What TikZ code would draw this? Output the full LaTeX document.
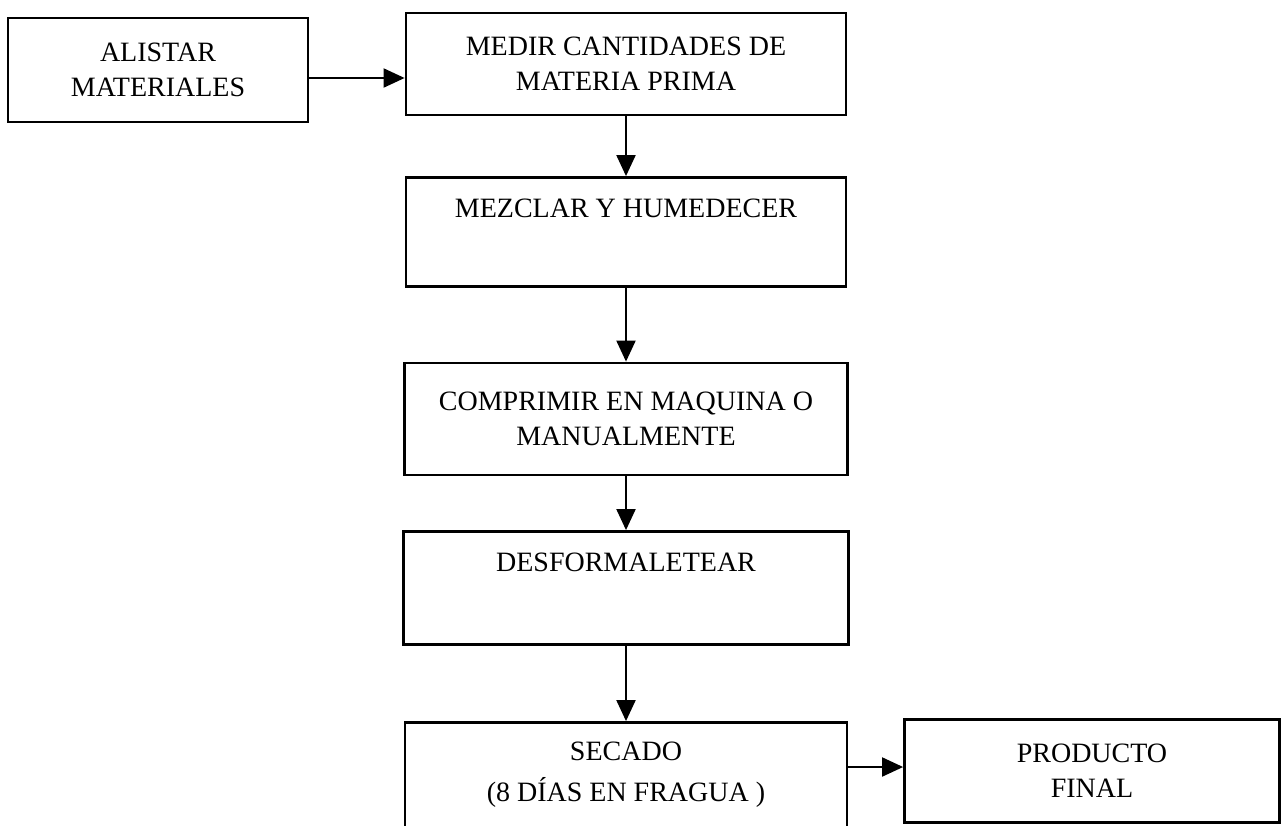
\documentclass[tikz,border=0pt]{standalone}
\usepackage{fontspec}
\setmainfont{Liberation Serif}
\usetikzlibrary{arrows.meta}
\usetikzlibrary{positioning}

\begin{document}
\begin{tikzpicture}[x=1pt,y=-1pt]
    \useasboundingbox (0,0) rectangle (1282,825);

        % process boxes, placed by their centres
        \begin{scope}[every node/.style={rectangle,draw,line width=2.8pt,align=center,
                      font=\fontsize{28}{35}\selectfont}]
        \node[minimum width=300pt,minimum height=104pt] (Alis) at (158,70) {ALISTAR\\MATERIALES};
        \node[minimum width=440pt,minimum height=102pt] (Med) at (626,64) {MEDIR CANTIDADES DE\\MATERIA PRIMA};
        \node[minimum width=440pt,minimum height=109pt] (Mez) at (626,232) {MEZCLAR Y HUMEDECER\\[12pt]\mbox{}};
        \node[minimum width=443pt,minimum height=112pt] (Comp) at (626,419) {COMPRIMIR EN MAQUINA O\\MANUALMENTE};
        \node[minimum width=445pt,minimum height=113pt] (Desf) at (626,588) {DESFORMALETEAR\\[16pt]\mbox{}};
        \node[minimum width=442pt,minimum height=105pt] (Sec) at (626,775) {SECADO\\[6pt](8 DÍAS EN FRAGUA )};
        \node[minimum width=375pt,minimum height=103pt] (Prod) at (1092,771) {PRODUCTO\\FINAL};
        \end{scope}

        % flow of the process
        \begin{scope}[>={Triangle[length=21pt,width=19pt]},
                  every edge/.style={draw=black, line width=2pt}]
        \path [->] ([yshift=-8pt]Alis.east) edge ([yshift=-8pt]Alis.east -| Med.west);
        \path [->] (Med) edge (Mez);
        \path [->] (Mez) edge (Comp);
        \path [->] (Comp) edge (Desf);
        \path [->] (Desf) edge (Sec);
        \path [->] ([yshift=8pt]Sec.east) edge ([yshift=8pt]Sec.east -| Prod.west);
        \end{scope}

\end{tikzpicture}
\end{document}
